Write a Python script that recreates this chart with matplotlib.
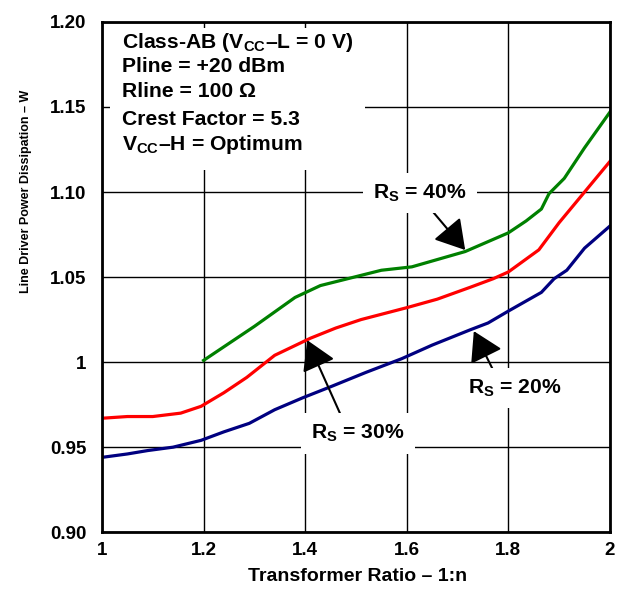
import numpy as np
import matplotlib
matplotlib.use("Agg")
import matplotlib.pyplot as plt
from matplotlib.patches import Rectangle

plt.rcParams['font.family'] = ['Liberation Sans', 'DejaVu Sans']
plt.rcParams['font.weight'] = 'bold'
plt.rcParams['mathtext.fontset'] = 'custom'
plt.rcParams['mathtext.rm'] = 'Liberation Sans:bold'
plt.rcParams['mathtext.bf'] = 'Liberation Sans:bold'
plt.rcParams['mathtext.it'] = 'Liberation Sans:bold'

# curves
rs40_x = [1.20, 1.30, 1.38, 1.43, 1.55, 1.61, 1.715, 1.80, 1.835, 1.865, 1.88, 1.91, 1.95, 2.00]
rs40_y = [1.001, 1.021, 1.038, 1.045, 1.054, 1.056, 1.065, 1.076, 1.083, 1.090, 1.099, 1.108, 1.126, 1.147]

rs30_x = [1.00, 1.05, 1.10, 1.155, 1.175, 1.195, 1.24, 1.285, 1.34, 1.41, 1.46, 1.51, 1.60,
          1.66, 1.725, 1.77, 1.80, 1.86, 1.90, 1.95, 2.00]
rs30_y = [0.967, 0.968, 0.968, 0.970, 0.972, 0.974, 0.982, 0.991, 1.004, 1.014, 1.020, 1.025, 1.032,
          1.037, 1.044, 1.049, 1.053, 1.066, 1.082, 1.100, 1.118]

rs20_x = [1.00, 1.05, 1.09, 1.14, 1.195, 1.24, 1.29, 1.34, 1.395, 1.45, 1.52, 1.59, 1.65,
          1.725, 1.76, 1.80, 1.865, 1.89, 1.915, 1.95, 2.00]
rs20_y = [0.944, 0.946, 0.948, 0.950, 0.954, 0.959, 0.964, 0.972, 0.979, 0.9855, 0.994, 1.002, 1.010,
          1.019, 1.023, 1.030, 1.041, 1.049, 1.054, 1.067, 1.080]

x_ticks = [1.0, 1.2, 1.4, 1.6, 1.8, 2.0]
x_labels = ["1", "1.2", "1.4", "1.6", "1.8", "2"]
y_ticks = [0.90, 0.95, 1.00, 1.05, 1.10, 1.15, 1.20]
y_labels = ["0.90", "0.95", "1", "1.05", "1.10", "1.15", "1.20"]

info_lines = [
    "Class-AB (V$_\\mathrm{CC}$\u2013L = 0 V)",
    "Pline = +20 dBm",
    "Rline = 100 \u03a9",
    "Crest Factor = 5.3",
    "V$_\\mathrm{CC}$\u2013H = Optimum",
]

fig = plt.figure(figsize=(6.18, 5.92), dpi=100)
ax = fig.add_axes([0.165, 0.101, 0.822, 0.862])

ax.plot(rs40_x, rs40_y, color='#008000', lw=2.3, zorder=3)
ax.plot(rs30_x, rs30_y, color='#ff0000', lw=2.3, zorder=3)
ax.plot(rs20_x, rs20_y, color='#000080', lw=2.3, zorder=3)

ax.set_xlim(1, 2)
ax.set_ylim(0.90, 1.20)
ax.set_xticks(x_ticks)
ax.set_xticklabels(x_labels)
ax.set_yticks(y_ticks)
ax.set_yticklabels(y_labels)
ax.tick_params(length=0, labelsize=13.5)
ax.tick_params(axis='y', pad=11)
ax.tick_params(axis='x', pad=7)
ax.grid(True, color='black', lw=1.0, zorder=0)
ax.set_axisbelow(True)
for s in ax.spines.values():
    s.set_linewidth(2)
    s.set_zorder(5)

ax.set_xlabel("Transformer Ratio \u2013 1:n", fontsize=14, fontweight='bold')
ax.xaxis.set_label_coords(0.503, -0.070)
ax.set_ylabel("Line Driver Power Dissipation \u2013 W", fontsize=9, fontweight='bold')
ax.yaxis.set_label_coords(-0.138, 0.668)

# white area behind the condition text
ax.add_patch(Rectangle((0.016, 0.71), 0.502, 0.278, transform=ax.transAxes,
                       facecolor='white', edgecolor='none', zorder=1))
baselines = [0.949, 0.902, 0.853, 0.798, 0.749]
for line, yb in zip(info_lines, baselines):
    ax.text(0.039, yb, line, transform=ax.transAxes, fontsize=15.2, fontweight='bold',
            va='baseline', ha='left', zorder=4)

arrow = dict(arrowstyle='-|>,head_length=1.0,head_width=0.6', color='black', lw=1.5,
             mutation_scale=18, shrinkA=0, shrinkB=0)
box = dict(facecolor='white', edgecolor='none', pad=7)

ax.annotate("", xy=(1.715, 1.0659), xytext=(1.652, 1.0882), arrowprops=arrow, zorder=4)
ax.text(1.626, 1.0994, "R$_\\mathrm{S}$ = 40%", fontsize=15.2, fontweight='bold',
        ha='center', va='center', bbox=box, zorder=4)

ax.annotate("", xy=(1.404, 1.0129), xytext=(1.472, 0.9676), arrowprops=arrow, zorder=4)
ax.text(1.504, 0.958, "R$_\\mathrm{S}$ = 30%", fontsize=15.2, fontweight='bold',
        ha='center', va='center', bbox=box, zorder=4)

ax.annotate("", xy=(1.732, 1.0182), xytext=(1.770, 0.9953), arrowprops=arrow, zorder=4)
ax.text(1.813, 0.9847, "R$_\\mathrm{S}$ = 20%", fontsize=15.2, fontweight='bold',
        ha='center', va='center', bbox=box, zorder=4)

fig.savefig("out.png", dpi=100)
